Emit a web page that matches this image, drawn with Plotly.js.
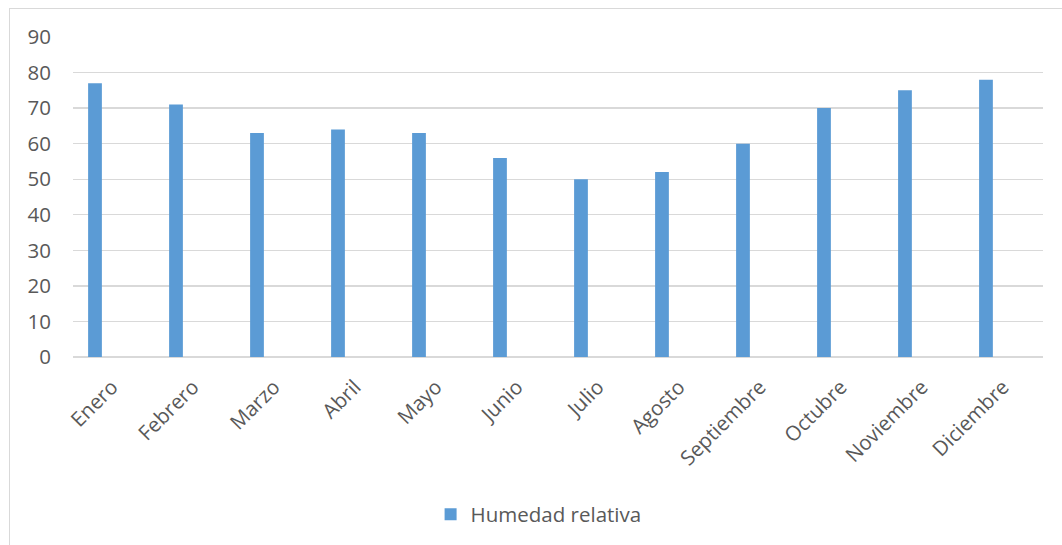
<!DOCTYPE html>
<html>
<head>
<meta charset="utf-8">
<script src="https://cdn.plot.ly/plotly-3.0.1.min.js"></script>
<style>
  html, body { margin: 0; padding: 0; background: #ffffff; overflow: hidden; }
  #chart { position: absolute; left: 0; top: 0; width: 1062px; height: 545px; }
  #frame { position: absolute; left: 9px; top: 8px; width: 1200px; height: 700px;
           border: 1px solid #d9d9d9; pointer-events: none; }
</style>
</head>
<body>
<div id="chart"></div>
<div id="frame"></div>
<script>
// Monthly relative humidity (%)
const months = ["Enero", "Febrero", "Marzo", "Abril", "Mayo", "Junio",
                "Julio", "Agosto", "Septiembre", "Octubre", "Noviembre", "Diciembre"];
const humidity = [77, 71, 63, 64, 63, 56, 50, 52, 60, 70, 75, 78];
const seriesName = "Humedad relativa";
const yTicks = [0, 10, 20, 30, 40, 50, 60, 70, 80, 90];

const textColor = "#595959";
const gridColor = "#d9d9d9";
const barColor = "#5b9bd5";
const baseFont = { family: "Open Sans, sans-serif", size: 20.5, color: textColor };

const trace = {
  type: "bar",
  name: seriesName,
  x: months.map((_, i) => i),
  y: humidity,
  width: 0.17,
  marker: { color: barColor },
  showlegend: true,
  hoverinfo: "x+y"
};

const layout = {
  width: 1062,
  height: 545,
  margin: { l: 73, r: 19, t: 37, b: 187, pad: 0 },
  paper_bgcolor: "#ffffff",
  plot_bgcolor: "#ffffff",
  font: baseFont,
  showlegend: true,
  legend: {
    orientation: "h",
    x: 0.48, xanchor: "center",
    y: -0.487, yanchor: "middle",
    font: baseFont,
    bgcolor: "rgba(0,0,0,0)"
  },
  xaxis: {
    range: [-0.2716, 11.704],
    tickmode: "array",
    tickvals: months.map((_, i) => i),
    ticktext: months,
    tickangle: -45,
    ticklabelshift: 17,
    ticklabelstandoff: 13,
    showgrid: false,
    zeroline: false,
    showline: false,
    ticks: "",
    tickfont: baseFont,
    fixedrange: true
  },
  yaxis: {
    range: [0, 90],
    tickmode: "array",
    tickvals: yTicks,
    ticktext: yTicks.map(String),
    showgrid: true,
    gridcolor: gridColor,
    gridwidth: 1.4,
    zeroline: true,
    zerolinecolor: gridColor,
    zerolinewidth: 1.4,
    showline: false,
    ticks: "",
    ticklabelstandoff: 21,
    tickfont: baseFont,
    fixedrange: true
  }
};

Plotly.newPlot("chart", [trace], layout, { displayModeBar: false, staticPlot: true });
</script>
</body>
</html>
